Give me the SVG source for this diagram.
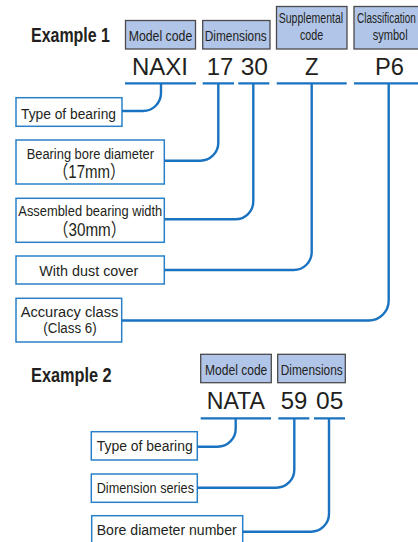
<svg xmlns="http://www.w3.org/2000/svg" width="418" height="542" viewBox="0 0 418 542">
<style>
text{font-family:"Liberation Sans",Arial,sans-serif;fill:#231f20}
.ex{font-size:21px;font-weight:bold}
.hb{fill:#b1c5e8;stroke:#4a4a4a;stroke-width:1.3}
.ht{font-size:14.5px}
.code{font-size:24px}
.nb{fill:#fff;stroke:#2a80c8;stroke-width:1.5}
.nt{font-size:15.5px}
.ul{stroke:#1a73c1;stroke-width:2.2;fill:none}
.cn{stroke:#1a73c1;stroke-width:2.4;fill:none}
.cjk{font-family:"Liberation Sans","Noto Sans CJK JP",sans-serif}
</style>
<g id="example1">
<text class="ex" x="31" y="41.5" textLength="79" lengthAdjust="spacingAndGlyphs">Example 1</text>
<g id="h-model1"><rect class="hb" x="125.5" y="20.5" width="70" height="28.5"/><text class="ht" x="128.7" y="41" textLength="63.6" lengthAdjust="spacingAndGlyphs">Model code</text></g>
<g id="h-dim1"><rect class="hb" x="202.7" y="20.5" width="67.3" height="28.5"/><text class="ht" x="204.7" y="41" textLength="62" lengthAdjust="spacingAndGlyphs">Dimensions</text></g>
<g id="h-supp"><rect class="hb" x="276.5" y="6.5" width="70.5" height="42.5"/><text class="ht" transform="translate(278.7 23.3) scale(0.728 1)">Supplemental</text><text class="ht" x="300" y="39.5" textLength="23.3" lengthAdjust="spacingAndGlyphs">code</text></g>
<g id="h-class"><rect class="hb" x="354" y="6.5" width="76" height="42.5"/><text class="ht" transform="translate(357 23.3) scale(0.69 1)">Classification</text><text class="ht" x="372.7" y="39.5" textLength="35" lengthAdjust="spacingAndGlyphs">symbol</text></g>
<text class="code" x="132" y="75" textLength="56" lengthAdjust="spacingAndGlyphs">NAXI</text>
<text class="code" x="206.7" y="75" textLength="26.5" lengthAdjust="spacingAndGlyphs">17</text>
<text class="code" x="240.7" y="75" textLength="27.3" lengthAdjust="spacingAndGlyphs">30</text>
<text class="code" x="305" y="75" textLength="13.5" lengthAdjust="spacingAndGlyphs">Z</text>
<text class="code" x="375" y="75" textLength="29" lengthAdjust="spacingAndGlyphs">P6</text>
<g id="n-type1"><rect class="nb" x="16" y="97.7" width="106" height="28.6"/><text class="nt" x="21" y="119.3" textLength="95" lengthAdjust="spacingAndGlyphs">Type of bearing</text></g>
<g id="n-bore"><rect class="nb" x="16" y="140" width="148.3" height="44"/><text class="nt" x="26.7" y="159.3" textLength="127.3" lengthAdjust="spacingAndGlyphs">Bearing bore diameter</text><text class="cjk" font-size="18" x="53.3" y="178.3" textLength="71.7" lengthAdjust="spacingAndGlyphs">（17mm）</text></g>
<g id="n-width"><rect class="nb" x="16" y="198.3" width="148.3" height="44"/><text class="nt" x="18.3" y="216" textLength="144" lengthAdjust="spacingAndGlyphs">Assembled bearing width</text><text class="cjk" font-size="18" x="53.3" y="236" textLength="72.7" lengthAdjust="spacingAndGlyphs">（30mm）</text></g>
<g id="n-dust"><rect class="nb" x="16" y="256" width="148.3" height="28"/><text class="nt" x="39.3" y="276" textLength="99" lengthAdjust="spacingAndGlyphs">With dust cover</text></g>
<g id="n-acc"><rect class="nb" x="16" y="298.3" width="105.7" height="43.7"/><text class="nt" x="20.7" y="316.7" textLength="97.6" lengthAdjust="spacingAndGlyphs">Accuracy class</text><text font-size="14" x="43.3" y="332.9" textLength="53.4" lengthAdjust="spacingAndGlyphs">(Class 6)</text></g>
</g>
<g id="example2">
<text class="ex" x="31" y="381.7" textLength="80.7" lengthAdjust="spacingAndGlyphs">Example 2</text>
<g id="h-model2"><rect class="hb" x="200.7" y="354.3" width="70.6" height="28.4"/><text class="ht" x="205" y="375" textLength="62.3" lengthAdjust="spacingAndGlyphs">Model code</text></g>
<g id="h-dim2"><rect class="hb" x="277.7" y="354.3" width="67.6" height="28.4"/><text class="ht" x="280.7" y="375" textLength="62" lengthAdjust="spacingAndGlyphs">Dimensions</text></g>
<text class="code" x="206.7" y="409.3" textLength="58.3" lengthAdjust="spacingAndGlyphs">NATA</text>
<text class="code" x="280.7" y="409.3" textLength="26.6" lengthAdjust="spacingAndGlyphs">59</text>
<text class="code" x="316" y="409.3" textLength="27.3" lengthAdjust="spacingAndGlyphs">05</text>
<g id="n-type2"><rect class="nb" x="91.3" y="431.7" width="106" height="28.3"/><text class="nt" x="96.7" y="451.3" textLength="96" lengthAdjust="spacingAndGlyphs">Type of bearing</text></g>
<g id="n-series"><rect class="nb" x="91.3" y="474" width="106" height="28.3"/><text class="nt" x="96.7" y="492.9" textLength="97.3" lengthAdjust="spacingAndGlyphs">Dimension series</text></g>
<g id="n-borenum"><rect class="nb" x="91.7" y="515.7" width="151" height="44"/><text class="nt" x="96.7" y="535.3" textLength="140" lengthAdjust="spacingAndGlyphs">Bore diameter number</text></g>
</g>
<g id="connectors">
<path class="ul" d="M125 83.3H196M202.7 83.3H234M238.3 83.3H269.3M276.7 83.3H346.7M354 83.3H420"/>
<path class="ul" d="M200.7 418.3H271M278.3 418.3H309.3M314 418.3H345"/>
<path class="cn" d="M161 84V93A18 18 0 0 1 143 111H122"/>
<path class="cn" d="M218.3 84V142.7A18 18 0 0 1 200.3 160.7H164.3"/>
<path class="cn" d="M253.3 84V201.3A18 18 0 0 1 235.3 219.3H164.3"/>
<path class="cn" d="M311.7 84V252A18 18 0 0 1 293.7 270H164.3"/>
<path class="cn" d="M388.7 84V300.5A20 20 0 0 1 368.7 320.5H121.7"/>
<path class="cn" d="M235.7 419V428.7A18 18 0 0 1 217.7 446.7H197.3"/>
<path class="cn" d="M294.3 419V469.7A18 18 0 0 1 276.3 487.7H197.3"/>
<path class="cn" d="M329 419V513.7A18 18 0 0 1 311 531.7H242.7"/>
</g>
</svg>
